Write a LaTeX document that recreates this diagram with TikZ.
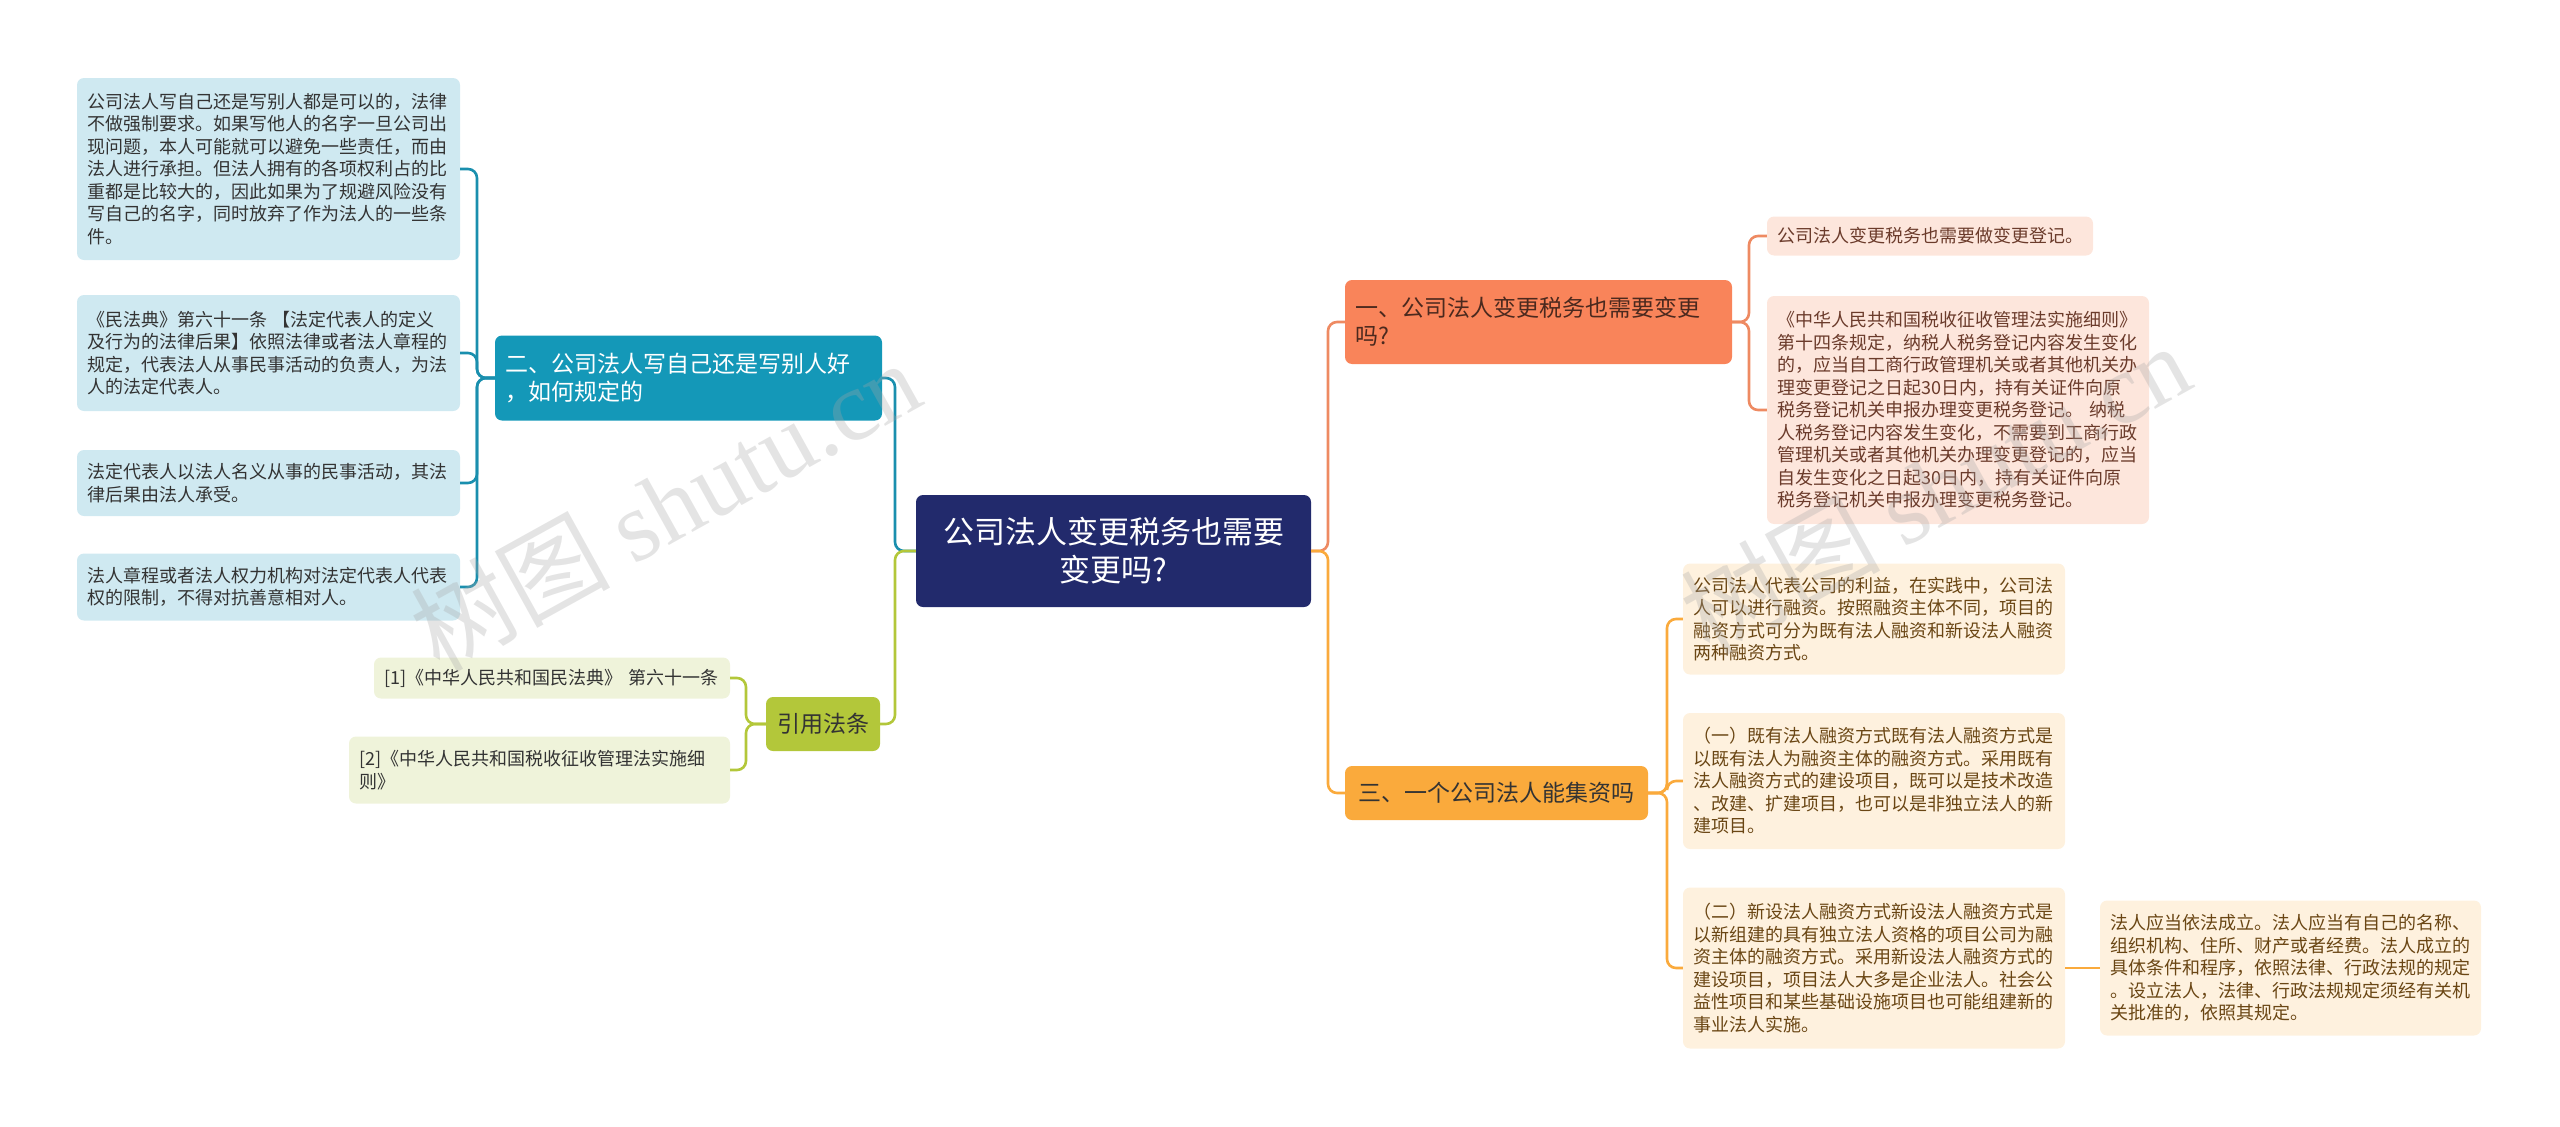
\documentclass[tikz,border=0pt]{standalone}
\usepackage{fontspec}
\setmainfont{Noto Sans CJK SC}
\newfontfamily\markfont{Liberation Serif}
\definecolor{navy}{HTML}{222A6C}
\definecolor{teal}{HTML}{1498B8}
\definecolor{tealink}{HTML}{1A8FAE}
\definecolor{skyleaf}{HTML}{CFE9F1}
\definecolor{lime}{HTML}{B3C73A}
\definecolor{limeleaf}{HTML}{EFF3DA}
\definecolor{coral}{HTML}{F9845A}
\definecolor{coralink}{HTML}{EE8A62}
\definecolor{pinkleaf}{HTML}{FDE6DC}
\definecolor{amber}{HTML}{FAAA3C}
\definecolor{amberleaf}{HTML}{FEF1DE}
\definecolor{ink}{HTML}{333333}
\definecolor{brown}{HTML}{6B3B2B}
\definecolor{umber}{HTML}{6A4614}
\tikzset{
  box/.style={rounded corners=7pt, inner xsep=10pt, inner ysep=4pt,
    align=left, font=\fontsize{18}{22.5}\selectfont, text=ink},
  topic/.style={box, fill=navy, text=white, align=center,
    font=\fontsize{31}{38}\selectfont},
  branch/.style={box, font=\fontsize{23}{28}\selectfont},
  skybox/.style={box, fill=skyleaf},
  limebox/.style={box, fill=limeleaf},
  pinkbox/.style={box, fill=pinkleaf, text=brown},
  amberbox/.style={box, fill=amberleaf, text=umber},
  link/.style={draw=#1, line width=2.6pt, rounded corners=9pt},
  watermark/.style={text=black!35, opacity=.3, rotate=29,
    font=\fontsize{100}{100}\selectfont}
}
\begin{document}
\begin{tikzpicture}[x=1pt,y=-1pt]
  \useasboundingbox (0,0) rectangle (2560,1127);

  % centre
  \node[topic,minimum width=395pt,minimum height=112pt] (ctr) at (1113.5,551)
    {公司法人变更税务也需要\\变更吗?};

  % left: 二
  \node[branch,fill=teal,text=white,text width=367pt,minimum height=85pt] (b2) at (688.5,378)
    {二、公司法人写自己还是写别人好\\，如何规定的};
  \node[skybox,text width=363pt,minimum height=182pt] (l1) at (268.5,169)
    {公司法人写自己还是写别人都是可以的，法律\\不做强制要求。如果写他人的名字一旦公司出\\现问题，本人可能就可以避免一些责任，而由\\法人进行承担。但法人拥有的各项权利占的比\\重都是比较大的，因此如果为了规避风险没有\\写自己的名字，同时放弃了作为法人的一些条\\件。};
  \node[skybox,text width=363pt,minimum height=116pt] (l2) at (268.5,353)
    {《民法典》第六十一条 【法定代表人的定义\\及行为的法律后果】依照法律或者法人章程的\\规定，代表法人从事民事活动的负责人，为法\\人的法定代表人。};
  \node[skybox,text width=363pt,minimum height=66pt] (l3) at (268.5,483)
    {法定代表人以法人名义从事的民事活动，其法\\律后果由法人承受。};
  \node[skybox,text width=363pt,minimum height=67pt] (l4) at (268.5,587)
    {法人章程或者法人权力机构对法定代表人代表\\权的限制，不得对抗善意相对人。};

  % left: 引用法条
  \node[branch,fill=lime,align=center,minimum width=114pt,minimum height=54pt] (bref) at (823,724)
    {引用法条};
  \node[limebox,text width=336pt,minimum height=41pt] (r1) at (552,678)
    {[1]《中华人民共和国民法典》~第六十一条};
  \node[limebox,text width=361pt,minimum height=67pt] (r2) at (539.5,770)
    {[2]《中华人民共和国税收征收管理法实施细\\则》};

  % right: 一
  \node[branch,fill=coral,text=brown!70!black,text width=367pt,minimum height=84pt] (b1) at (1538.5,322)
    {一、公司法人变更税务也需要变更\\吗?};
  \node[pinkbox,text width=306pt,minimum height=39pt] (p1) at (1930,236)
    {公司法人变更税务也需要做变更登记。};
  \node[pinkbox,text width=362pt,minimum height=228pt] (p2) at (1958,410)
    {《中华人民共和国税收征收管理法实施细则》\\第十四条规定，纳税人税务登记内容发生变化\\的，应当自工商行政管理机关或者其他机关办\\理变更登记之日起30日内，持有关证件向原\\税务登记机关申报办理变更税务登记。 纳税\\人税务登记内容发生变化，不需要到工商行政\\管理机关或者其他机关办理变更登记的，应当\\自发生变化之日起30日内，持有关证件向原\\税务登记机关申报办理变更税务登记。};

  % right: 三
  \node[branch,fill=amber,text=black!80,align=center,minimum width=303pt,minimum height=54pt] (b3) at (1496.5,793)
    {三、一个公司法人能集资吗};
  \node[amberbox,text width=362pt,minimum height=111pt] (o1) at (1874,619)
    {公司法人代表公司的利益，在实践中，公司法\\人可以进行融资。按照融资主体不同，项目的\\融资方式可分为既有法人融资和新设法人融资\\两种融资方式。};
  \node[amberbox,text width=362pt,minimum height=136pt] (o2) at (1874,781)
    {（一）既有法人融资方式既有法人融资方式是\\以既有法人为融资主体的融资方式。采用既有\\法人融资方式的建设项目，既可以是技术改造\\、改建、扩建项目，也可以是非独立法人的新\\建项目。};
  \node[amberbox,text width=362pt,minimum height=161pt] (o3) at (1874,968)
    {（二）新设法人融资方式新设法人融资方式是\\以新组建的具有独立法人资格的项目公司为融\\资主体的融资方式。采用新设法人融资方式的\\建设项目，项目法人大多是企业法人。社会公\\益性项目和某些基础设施项目也可能组建新的\\事业法人实施。};
  \node[amberbox,text width=361pt,minimum height=135pt] (o4) at (2290.5,968)
    {法人应当依法成立。法人应当有自己的名称、\\组织机构、住所、财产或者经费。法人成立的\\具体条件和程序，依照法律、行政法规的规定\\。设立法人，法律、行政法规规定须经有关机\\关批准的，依照其规定。};

  % junctions
  \coordinate (jl) at (895,551);
  \coordinate (jr) at (1328,551);
  \coordinate (j2) at (477,378);
  \coordinate (jref) at (746,724);
  \coordinate (j1) at (1749,322);
  \coordinate (j3) at (1667,793);

  % connectors
  \draw[link=tealink] (ctr.west) -- (jl) |- (b2.east);
  \draw[link=lime] (ctr.west) -- (jl) |- (bref.east);
  \draw[link=coralink] (ctr.east) -- (jr) |- (b1.west);
  \draw[link=amber] (ctr.east) -- (jr) |- (b3.west);
  \foreach \leaf in {l1,l2,l3,l4}
    \draw[link=tealink] (b2.west) -- (j2) |- (\leaf.east);
  \foreach \leaf in {r1,r2}
    \draw[link=lime] (bref.west) -- (jref) |- (\leaf.east);
  \foreach \leaf in {p1,p2}
    \draw[link=coralink] (b1.east) -- (j1) |- (\leaf.west);
  \foreach \leaf in {o1,o2,o3}
    \draw[link=amber] (b3.east) -- (j3) |- (\leaf.west);
  \draw[link=amber] (o3.east) -- (o4.west);

  % watermark
  \node[watermark] (wm1) at (665,505) {树图 {\markfont shutu.cn}};
  \node[watermark] (wm2) at (1935,488) {树图 {\markfont shutu.cn}};
\end{tikzpicture}
\end{document}
